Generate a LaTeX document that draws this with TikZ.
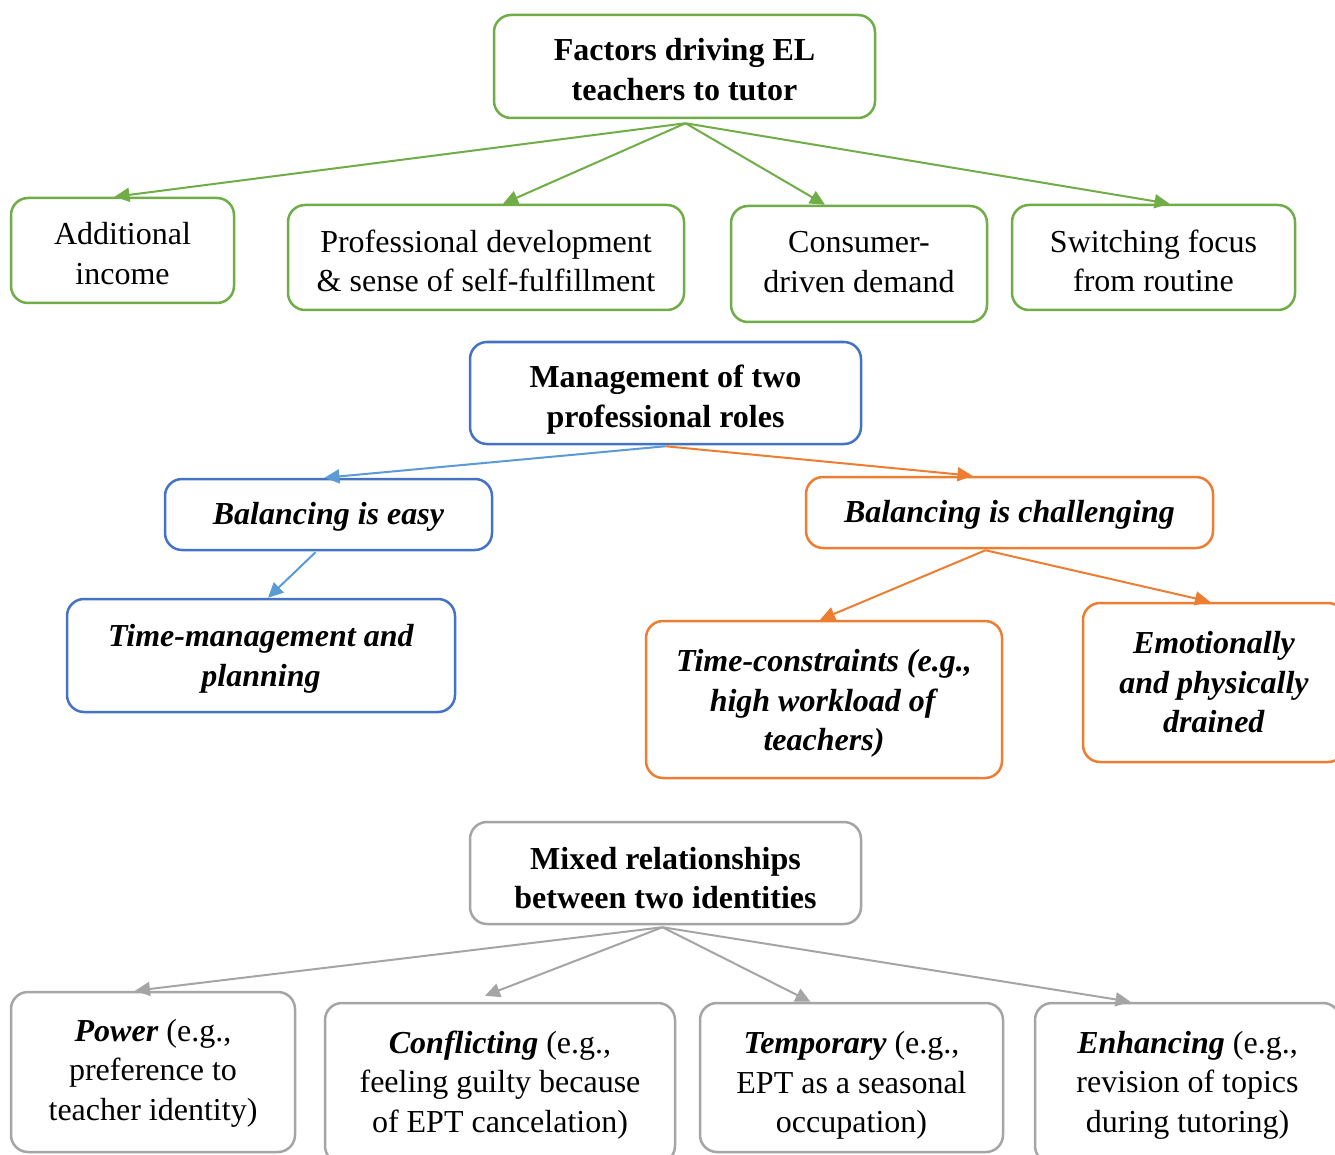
\documentclass[tikz,border=0pt]{standalone}
\usepackage{fontspec}
\setmainfont{Liberation Serif}
\usetikzlibrary{arrows.meta,calc}
\definecolor{cgreen}{HTML}{70AD47}
\definecolor{cblue}{HTML}{4472C4}
\definecolor{clblue}{HTML}{5B9BD5}
\definecolor{corange}{HTML}{ED7D31}
\definecolor{cgray}{HTML}{A5A5A5}
\tikzset{
  box/.style={draw, line width=2.5pt, rounded corners=17pt, inner sep=0pt},
  gbox/.style={box, draw=cgreen},
  bbox/.style={box, draw=cblue},
  obox/.style={box, draw=corange},
  ybox/.style={box, draw=cgray},
  txt/.style={align=center, inner sep=0pt, font=\fontsize{32}{39.5}\selectfont},
  arr/.style={line width=2pt, -{Triangle[length=15pt,width=14pt]}},
}
\begin{document}
\begin{tikzpicture}[x=1pt,y=-1pt]
\useasboundingbox (0,0) rectangle (1335,1155);
\clip (0,0) rectangle (1335,1155);
\fill[white] (0,0) rectangle (1335,1155);

% top group
\node[gbox, minimum width=381pt, minimum height=103pt] (top) at (684.5,66.5) {};
\node[txt] (top-t) at ($(top)+(0,3)$) {\textbf{Factors driving EL}\\\textbf{teachers to tutor}};
\node[gbox, minimum width=223pt, minimum height=105pt] (inc) at (122.5,250.5) {};
\node[txt] (inc-t) at ($(inc)+(0,3)$) {Additional\\income};
\node[gbox, minimum width=396pt, minimum height=105pt] (prof) at (486,257.5) {};
\node[txt] (prof-t) at ($(prof)+(0,3.5)$) {Professional development\\\& sense of self-fulfillment};
\node[gbox, minimum width=256pt, minimum height=116pt] (cons) at (859,264) {};
\node[txt] (cons-t) at ($(cons)+(0,-2)$) {Consumer-\\driven demand};
\node[gbox, minimum width=283pt, minimum height=105pt] (swit) at (1153.5,257.5) {};
\node[txt] (swit-t) at ($(swit)+(0,3.5)$) {Switching focus\\from routine};
\coordinate (topsrc) at ($(top.south)+(1,4)$);
\draw[arr, cgreen] (topsrc) -- ($(inc.north)+(-8,0)$);
\draw[arr, cgreen] (topsrc) -- ($(prof.north)+(17,0)$);
\draw[arr, cgreen] (topsrc) -- ($(cons.north)+(-34,0)$);
\draw[arr, cgreen] (topsrc) -- ($(swit.north)+(16,0)$);

% management group
\node[bbox, minimum width=391pt, minimum height=102pt] (man) at (665.5,393) {};
\node[txt] (man-t) at ($(man)+(0,6.5)$) {\textbf{Management of two}\\\textbf{professional roles}};
\node[bbox, minimum width=327pt, minimum height=71pt] (easy) at (328.5,514.5) {};
\node[txt] (easy-t) at ($(easy)+(0,2)$) {\textbf{\textit{Balancing is easy}}};
\node[bbox, minimum width=388pt, minimum height=113pt] (tman) at (261,655.5) {};
\node[txt] (tman-t) at ($(tman)+(0,3.5)$) {\textbf{\textit{Time-management and}}\\\textbf{\textit{planning}}};
\node[obox, minimum width=407pt, minimum height=71pt] (chal) at (1009.5,512.5) {};
\node[txt] (chal-t) at ($(chal)+(0,2)$) {\textbf{\textit{Balancing is challenging}}};
\node[obox, minimum width=356pt, minimum height=157pt] (tcon) at (824,699.5) {};
\node[txt] (tcon-t) at ($(tcon)+(0,4)$) {\textbf{\textit{Time-constraints (e.g.,}}\\\textbf{\textit{high workload of}}\\\textbf{\textit{teachers)}}};
\node[obox, minimum width=262pt, minimum height=159pt] (emo) at (1214,682.5) {};
\node[txt] (emo-t) at ($(emo)+(0,0)$) {\textbf{\textit{Emotionally}}\\\textbf{\textit{and physically}}\\\textbf{\textit{drained}}};
\coordinate (mansrc) at ($(man.south)+(0,1)$);
\draw[arr, clblue] (mansrc) -- ($(easy.north)+(-4,0)$);
\draw[arr, corange] (mansrc) -- ($(chal.north)+(-37,0)$);
\draw[arr, clblue] ($(easy.south)+(-13,1)$) -- ($(tman.north)+(7,0)$);
\coordinate (chalsrc) at ($(chal.south)+(-24,1)$);
\draw[arr, corange] (chalsrc) -- ($(tcon.north)+(-4,0)$);
\draw[arr, corange] (chalsrc) -- ($(emo.north)+(-4,0)$);

% mixed group
\node[ybox, minimum width=391pt, minimum height=102pt] (mix) at (665.5,873) {};
\node[txt] (mix-t) at ($(mix)+(0,5)$) {\textbf{Mixed relationships}\\\textbf{between two identities}};
\node[ybox, minimum width=284pt, minimum height=160pt] (pow) at (153,1072) {};
\node[txt] (pow-t) at ($(pow)+(0,1)$) {\textbf{\textit{Power}} (e.g.,\\preference to\\teacher identity)};
\node[ybox, minimum width=350pt, minimum height=160pt] (conf) at (500,1083) {};
\node[txt] (conf-t) at ($(conf)+(0,2)$) {\textbf{\textit{Conflicting}} (e.g.,\\feeling guilty because\\of EPT cancelation)};
\node[ybox, minimum width=303pt, minimum height=149pt] (temp) at (851.5,1077.5) {};
\node[txt] (temp-t) at ($(temp)+(0,8)$) {\textbf{\textit{Temporary}} (e.g.,\\EPT as a seasonal\\occupation)};
\node[ybox, minimum width=305pt, minimum height=160pt] (enh) at (1187.5,1083) {};
\node[txt] (enh-t) at ($(enh)+(0,2)$) {\textbf{\textit{Enhancing}} (e.g.,\\revision of topics\\during tutoring)};
\coordinate (mixsrc) at ($(mix.south)+(-3,2)$);
\draw[arr, cgray] (mixsrc) -- ($(pow.north)+(-18,0)$);
\draw[arr, cgray] (mixsrc) -- ($(conf.north)+(-15,-6)$);
\draw[arr, cgray] (mixsrc) -- ($(temp.north)+(-41,0)$);
\draw[arr, cgray] (mixsrc) -- ($(enh.north)+(-57,0)$);
\end{tikzpicture}
\end{document}
